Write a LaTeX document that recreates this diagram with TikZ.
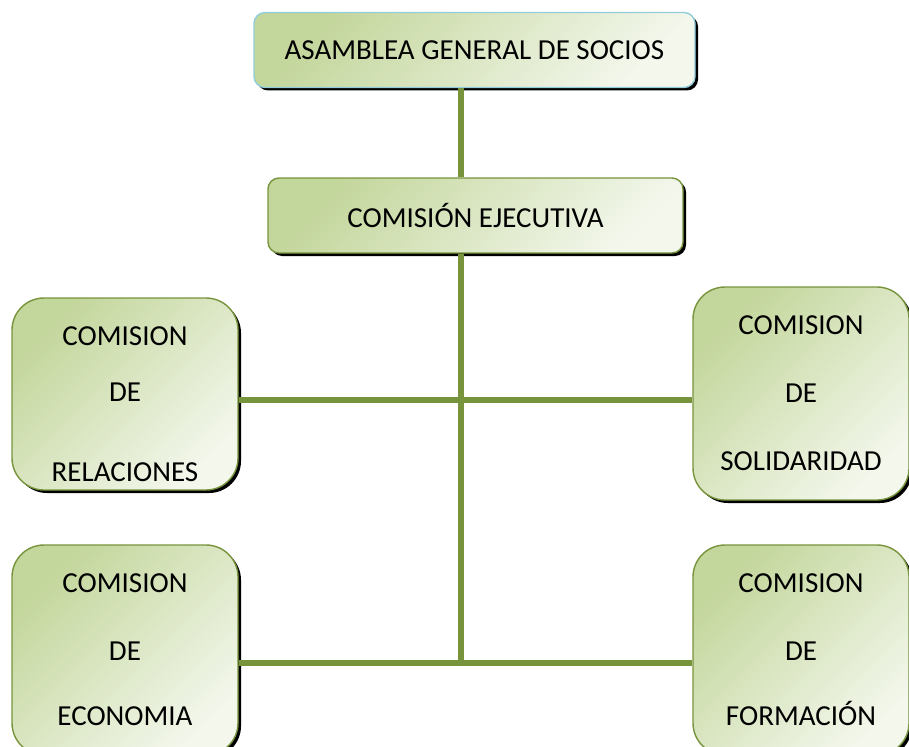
\documentclass[tikz,border=0pt]{standalone}
\usepackage{fontspec}
\setmainfont{Carlito}
\usetikzlibrary{shadows}
\definecolor{verde}{RGB}{119,147,60}
\definecolor{verdeoscuro}{RGB}{195,214,155}
\definecolor{verdeclaro}{RGB}{243,247,236}
\definecolor{azulborde}{RGB}{146,205,220}

\begin{document}
\begin{tikzpicture}[x=1pt, y=-1pt, font=\fontsize{29}{35}\selectfont,
    caja/.style={draw=verde, line width=1.4pt, rounded corners=11pt,
        top color=verdeoscuro, bottom color=verdeclaro, shading angle=45,
        drop shadow={shadow xshift=3pt, shadow yshift=-3pt, opacity=1, fill=black},
        align=center, inner sep=0pt},
    comision/.style={caja, rounded corners=32pt},
    linea/.style={draw=verde, line width=5.5pt}]
    \useasboundingbox (0, 0) rectangle (909, 746);

    \node (asamblea) [caja, draw=azulborde, minimum width=441pt, minimum height=75pt] at (474.5, 50) {ASAMBLEA GENERAL DE SOCIOS};
    \node (ejecutiva) [caja, minimum width=415pt, minimum height=75pt] at (475.5, 215.5) {COMISIÓN EJECUTIVA};

    \node (relaciones) [comision, minimum width=226pt, minimum height=192pt] at (125, 394) {\rule{0pt}{39pt}COMISION\\[21pt] DE\\[45pt] RELACIONES};
    \node (solidaridad) [comision, minimum width=216pt, minimum height=213pt] at (801, 393.5) {COMISION\\[33pt] DE\\[33pt] SOLIDARIDAD};
    \node (economia) [comision, minimum width=226pt, minimum height=210pt] at (125, 650) {COMISION\\[33pt] DE\\[30pt] ECONOMIA};
    \node (formacion) [comision, minimum width=216pt, minimum height=210pt] at (801, 650) {COMISION\\[33pt] DE\\[30pt] FORMACIÓN};

    \coordinate (eje) at (461, 0);
    \coordinate (fila1) at (0, 400);
    \coordinate (fila2) at (0, 663);

    \draw[linea] (asamblea.south -| eje) -- (ejecutiva.north -| eje);
    \draw[linea] (ejecutiva.south -| eje) -- (eje |- fila2);
    \draw[linea] (relaciones.east |- fila1) -- (solidaridad.west |- fila1);
    \draw[linea] (economia.east |- fila2) -- (formacion.west |- fila2);
\end{tikzpicture}
\end{document}
